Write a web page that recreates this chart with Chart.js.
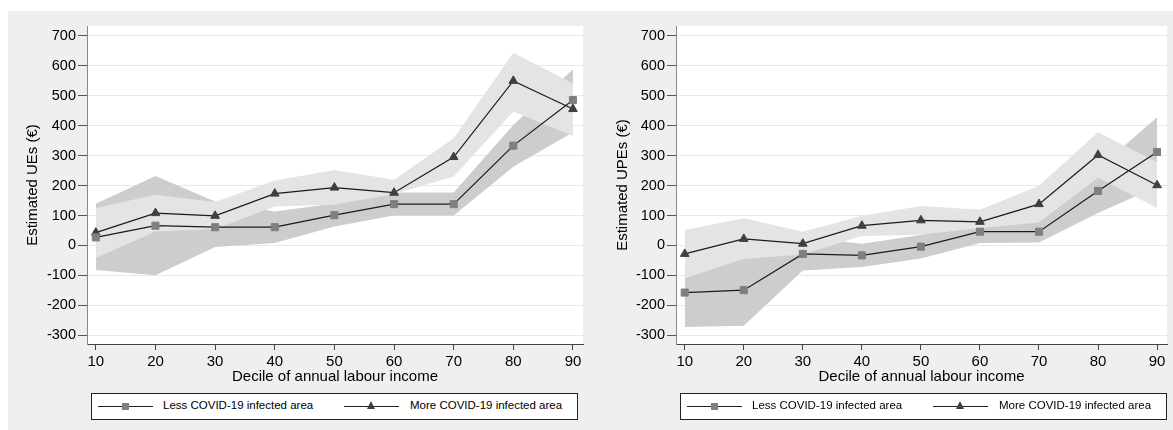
<!DOCTYPE html>
<html>
<head>
<meta charset="utf-8">
<script src="https://cdn.jsdelivr.net/npm/chart.js@4.4.1/dist/chart.umd.min.js"></script>
<style>
  body { margin: 0; background: #fff; width: 1173px; height: 430px; position: relative; overflow: hidden;
         font-family: "Liberation Sans", Arial, sans-serif; }
  #bg { position: absolute; left: 8px; top: 11px; width: 1165px; height: 419px; background: #efefef; }
  canvas { position: absolute; top: 11px; }
  .legend { position: absolute; top: 393px; width: 485px; height: 25px; background: #fff; border: 1px solid #222; }
  .sample { position: absolute; top: 12px; width: 55px; border-top: 1px solid #222; }
  .sq { position: absolute; left: 24px; top: -4px; width: 7px; height: 7px; background: #7f7f7f; }
  .tri { position: absolute; left: 23px; top: -6px; width: 0; height: 0;
         border-left: 4.5px solid transparent; border-right: 4.5px solid transparent; border-bottom: 8px solid #3f3f3f; }
  .label { position: absolute; top: 5px; font-size: 11.5px; color: #000; white-space: nowrap; }
</style>
</head>
<body>
<div id="bg"></div>
<canvas id="ue" width="582" height="419" style="left:8px"></canvas>
<canvas id="upe" width="583" height="419" style="left:590px"></canvas>
<div id="leg1" class="legend" style="left:91px"></div>
<div id="leg2" class="legend" style="left:680px"></div>
<script>
/* ================= DATA ================= */
const deciles = [10, 20, 30, 40, 50, 60, 70, 80, 90];
const yTicks = [-300, -200, -100, 0, 100, 200, 300, 400, 500, 600, 700];
const seriesNames = ["Less COVID-19 infected area", "More COVID-19 infected area"];
const xTitle = "Decile of annual labour income";

// left panel: UEs
const lessUE   = [27, 66, 61, 61, 101, 138, 138, 333, 485];
const lessUELo = [-82, -99, -5, 8, 63, 100, 100, 263, 378];
const lessUEHi = [139, 232, 147, 113, 140, 177, 177, 402, 588];
const moreUE   = [43, 108, 99, 173, 193, 176, 295, 549, 455];
const moreUELo = [-42, 47, 55, 130, 136, 172, 230, 447, 365];
const moreUEHi = [125, 169, 145, 217, 252, 219, 358, 643, 540];

// right panel: UPEs
const lessUPE   = [-157, -149, -28, -33, -4, 46, 46, 182, 312];
const lessUPELo = [-272, -268, -83, -72, -43, 8, 10, 108, 196];
const lessUPEHi = [-42, -30, 27, 6, 35, 84, 82, 256, 428];
const moreUPE   = [-28, 22, 6, 66, 84, 79, 138, 302, 201];
const moreUPELo = [-109, -45, -30, 32, 36, 58, 77, 226, 125];
const moreUPEHi = [52, 91, 46, 99, 132, 119, 199, 378, 278];

/* ================= CHART BUILDER ================= */
const FONT = "'Liberation Sans', Arial, sans-serif";
const pts = arr => arr.map((v, i) => ({ x: deciles[i], y: v }));

// plot region is white, the rest of the panel stays grey
const whitePlot = {
    id: 'whitePlot',
    beforeDraw(chart) {
        const a = chart.chartArea;
        chart.ctx.save();
        chart.ctx.fillStyle = '#fff';
        chart.ctx.fillRect(a.left, a.top, a.right - a.left, a.bottom - a.top);
        chart.ctx.restore();
    }
};

function band(lo, hi, color, order, loIndex) {
    const base = { borderColor: 'rgba(0,0,0,0)', borderWidth: 1, pointRadius: 0, order: order };
    return [
        Object.assign({ data: pts(lo), fill: false }, base),
        Object.assign({ data: pts(hi), fill: loIndex, backgroundColor: color }, base)
    ];
}

function makeChart(id, yTitle, less, lessLo, lessHi, more, moreLo, moreHi, g) {
    new Chart(document.getElementById(id), {
        type: 'line',
        data: {
            datasets: [
                { label: seriesNames[0], data: pts(less), order: 0, borderColor: '#1a1a1a', borderWidth: 1.2,
                  pointStyle: 'rect', pointRadius: 5, pointBackgroundColor: '#7f7f7f', pointBorderColor: '#7f7f7f', pointBorderWidth: 1 },
                { label: seriesNames[1], data: pts(more), order: 0, borderColor: '#1a1a1a', borderWidth: 1.2,
                  pointStyle: 'triangle', pointRadius: 5, pointBackgroundColor: '#3f3f3f', pointBorderColor: '#3f3f3f', pointBorderWidth: 1 },
                ...band(moreLo, moreHi, '#e4e4e4', 1, 2),
                ...band(lessLo, lessHi, '#cdcdcd', 2, 4)
            ]
        },
        options: {
            responsive: false,
            animation: false,
            events: [],
            layout: { padding: { top: 15, right: g.padRight, bottom: 0, left: 0 } },
            plugins: { legend: { display: false }, tooltip: { enabled: false } },
            scales: {
                x: {
                    type: 'linear', min: 8.52, max: 91.68,
                    afterBuildTicks: s => { s.ticks = deciles.map(v => ({ value: v })); },
                    afterFit: s => { s.height = 86; s.paddingLeft = 0; s.paddingRight = 0; },
                    grid: { drawOnChartArea: false, tickLength: 6, tickColor: '#444' },
                    border: { color: '#444', width: 1 },
                    ticks: { padding: 3, color: '#000', maxRotation: 0, autoSkip: false, font: { size: 15, family: FONT } },
                    title: { display: true, text: xTitle, color: '#000', font: { size: 15, family: FONT },
                             padding: { top: 0, bottom: 44 } }
                },
                y: {
                    min: -328.5, max: 732,
                    afterBuildTicks: s => { s.ticks = yTicks.map(v => ({ value: v })); },
                    afterFit: s => { s.width = g.axisWidth; s.paddingTop = 0; s.paddingBottom = 0; },
                    grid: { color: '#e8e8e8', tickLength: 9, tickColor: '#555' },
                    border: { color: '#888', width: 1 },
                    ticks: { padding: 2, color: '#000', autoSkip: false, font: { size: 14.5, family: FONT } },
                    title: { display: true, text: yTitle, color: '#000', font: { size: 15, family: FONT },
                             padding: { top: g.titleOffset, bottom: 0 } }
                }
            }
        },
        plugins: [whitePlot]
    });
}

makeChart('ue', 'Estimated UEs (€)', lessUE, lessUELo, lessUEHi, moreUE, moreUELo, moreUEHi,
          { axisWidth: 79, titleOffset: 16, padRight: 7 });
makeChart('upe', 'Estimated UPEs (€)', lessUPE, lessUPELo, lessUPEHi, moreUPE, moreUPELo, moreUPEHi,
          { axisWidth: 86, titleOffset: 24, padRight: 0 });

/* ================= LEGENDS ================= */
function buildLegend(id) {
    const el = document.getElementById(id);
    const spots = [{ line: 6, text: 71 }, { line: 252, text: 318 }];
    seriesNames.forEach((name, i) => {
        const marker = i === 0 ? '<div class="sq"></div>' : '<div class="tri"></div>';
        el.innerHTML += `<div class="sample" style="left:${spots[i].line}px">${marker}</div>` +
                        `<div class="label" style="left:${spots[i].text}px">${name}</div>`;
    });
}
buildLegend('leg1');
buildLegend('leg2');
</script>
</body>
</html>
